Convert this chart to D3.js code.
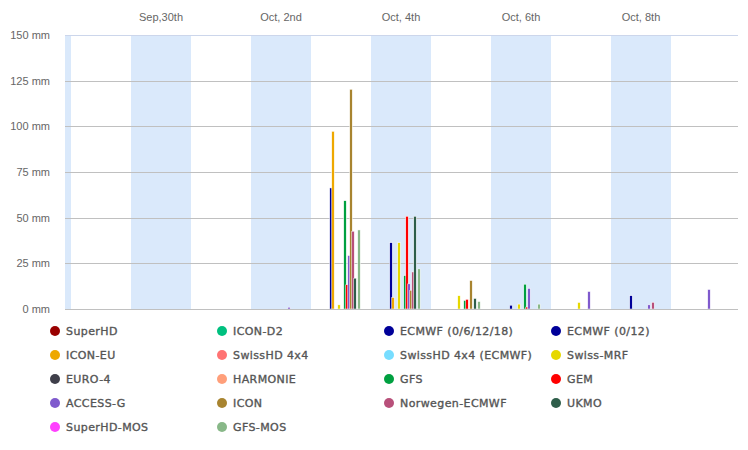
<!DOCTYPE html>
<html><head><meta charset="utf-8">
<script src="https://cdn.jsdelivr.net/npm/d3@7/dist/d3.min.js"></script>
<style>body{margin:0;background:#fff}svg{display:block}</style>
</head><body><svg id="c" width="748" height="450"></svg>
<script>
// ---- data ----
const days = ["2020-09-29","2020-09-30","2020-10-01","2020-10-02","2020-10-03","2020-10-04","2020-10-05","2020-10-06","2020-10-07","2020-10-08","2020-10-09"];
const bandDays = ["2020-09-28","2020-09-30","2020-10-02","2020-10-04","2020-10-06","2020-10-08"];
const tickDays = ["2020-09-30","2020-10-02","2020-10-04","2020-10-06","2020-10-08"];
const tickLabels = ["Sep,30th","Oct, 2nd","Oct, 4th","Oct, 6th","Oct, 8th"];
const yTicks = [0,25,50,75,100,125,150];
const seriesNames = ["SuperHD","ICON-D2","ECMWF (0/6/12/18)","ECMWF (0/12)","ICON-EU","SwissHD 4x4","SwissHD 4x4 (ECMWF)","Swiss-MRF","EURO-4","HARMONIE","GFS","GEM","ACCESS-G","ICON","Norwegen-ECMWF","UKMO","SuperHD-MOS","GFS-MOS"];
const seriesColors = ["#990000","#00c07f","#000099","#000099","#eea800","#ff7373","#77ddff","#e6d800","#3f3f4a","#ff9f7a","#00a040","#ff0000","#7f5acd","#a88430","#b8507a","#2e5e4a","#ff40ff","#88b888"];
const N = null;
const vSuperHD      = [N,N,N,N,N,N,N,N,N,N,N];
const vIconD2       = [N,N,N,N,N,N,N,N,N,N,N];
const vEcmwf061218  = [N,N,N,N,N,N,N,N,N,N,N];
const vEcmwf012     = [N,N,N,N,66,36,N,1.8,N,7,N];
const vIconEU       = [N,N,N,N,97,6,N,N,N,N,N];
const vSwissHD      = [N,N,N,N,N,N,N,N,N,N,N];
const vSwissHDEc    = [N,N,N,N,N,N,N,N,N,N,N];
const vSwissMRF     = [N,N,N,N,2,36,7,2.4,3.3,N,N];
const vEuro4        = [N,N,N,N,N,N,N,N,N,N,N];
const vHarmonie     = [N,N,N,N,N,N,N,N,N,N,N];
const vGFS          = [N,N,N,N,59,18,4.4,13.3,N,N,N];
const vGEM          = [N,N,N,N,13,50.5,5,0.8,N,N,N];
const vAccessG      = [N,N,N,0.7,29,13.5,N,11,9.3,2,10.4];
const vICON         = [N,N,N,N,120,10,15.3,N,N,N,N];
const vNorwegen     = [N,N,N,N,42.3,20,N,N,N,3.4,N];
const vUKMO         = [N,N,N,N,16.6,50.5,5.5,N,N,N,N];
const vSuperHDMOS   = [N,N,N,N,N,N,N,N,N,N,N];
const vGFSMOS       = [N,N,N,N,43,21.7,3.8,2.4,N,N,N];
const seriesValues = [vSuperHD,vIconD2,vEcmwf061218,vEcmwf012,vIconEU,vSwissHD,vSwissHDEc,vSwissMRF,vEuro4,vHarmonie,vGFS,vGEM,vAccessG,vICON,vNorwegen,vUKMO,vSuperHDMOS,vGFSMOS];

// ---- layout ----
const svg = d3.select("#c");
const L = 65, R = 738, T = 35, B = 309;
const dayStart = s => new Date(s + "T00:00:00Z");
const dayNoon = s => new Date(s + "T12:00:00Z");
const x = d3.scaleUtc()
  .domain([new Date("2020-09-28T21:36:00Z"), new Date("2020-10-10T02:48:00Z")])
  .range([L, R]);
const y = d3.scaleLinear().domain([0,150]).range([B, T]);
const dayPx = x(dayStart("2020-10-02")) - x(dayStart("2020-10-01"));

svg.append("clipPath").attr("id","pc").append("rect")
  .attr("x",L).attr("y",T).attr("width",R-L).attr("height",B-T);

// bands
svg.append("g").attr("clip-path","url(#pc)").selectAll("rect").data(bandDays).join("rect")
  .attr("x", d => x(dayStart(d)))
  .attr("width", dayPx)
  .attr("y", T).attr("height", B-T)
  .attr("fill", "#dae9fb");

// grid
svg.append("g").selectAll("line").data(yTicks).join("line")
  .attr("x1", L).attr("x2", R)
  .attr("y1", d => Math.round(y(d))+0.5).attr("y2", d => Math.round(y(d))+0.5)
  .attr("stroke", d => d === 150 ? "#ccd6eb" : "#c0c0c0").attr("stroke-width", 1);

// y labels
svg.append("g").selectAll("text").data(yTicks).join("text")
  .attr("x", 50).attr("y", d => y(d) + 4)
  .attr("text-anchor","end")
  .attr("font-family","'Liberation Sans', Arial, sans-serif")
  .attr("font-size", 11).attr("fill","#666")
  .text(d => d + " mm");

// top tick labels
svg.append("g").selectAll("text").data(tickDays).join("text")
  .attr("x", d => x(dayNoon(d))).attr("y", 21)
  .attr("text-anchor","middle")
  .attr("font-family","'Liberation Sans', Arial, sans-serif")
  .attr("font-size", 11).attr("fill","#666")
  .text((d,i) => tickLabels[i]);

// bars
const groupW = dayPx * 0.6;
const slot = d3.scaleBand().domain(d3.range(seriesNames.length)).range([-groupW/2 + 1, groupW/2 + 1]);
const barsG = svg.append("g").attr("clip-path","url(#pc)");
seriesValues.forEach((vals, si) => {
  const pts = vals.map((v,i) => ({v, d: days[i]})).filter(p => p.v != null);
  barsG.append("g").selectAll("rect").data(pts).join("rect")
    .attr("x", p => x(dayNoon(p.d)) + slot(si) - 0.25)
    .attr("width", slot.bandwidth() + 0.5)
    .attr("y", p => y(p.v) - 0.5)
    .attr("height", p => y(0) - y(p.v) + 0.5)
    .attr("fill", seriesColors[si])
    .attr("stroke", "#fff").attr("stroke-width", 0.5);
});

// legend
const colX = [55, 222, 389, 556];
const rowY = [331, 355, 379, 403, 427];
const lg = svg.append("g").selectAll("g").data(seriesNames).join("g")
  .attr("transform", (d,i) => `translate(${colX[i%4]},${rowY[Math.floor(i/4)]})`);
lg.append("circle").attr("r", 5).attr("fill", (d,i) => seriesColors[i]);
lg.append("text").attr("x", 11).attr("y", 4)
  .attr("font-family","'DejaVu Sans', sans-serif")
  .attr("font-size", 11).attr("fill","#555").attr("letter-spacing", 0.4)
  .attr("stroke","#555").attr("stroke-width", 0.35)
  .text(d => d);
</script></body></html>
